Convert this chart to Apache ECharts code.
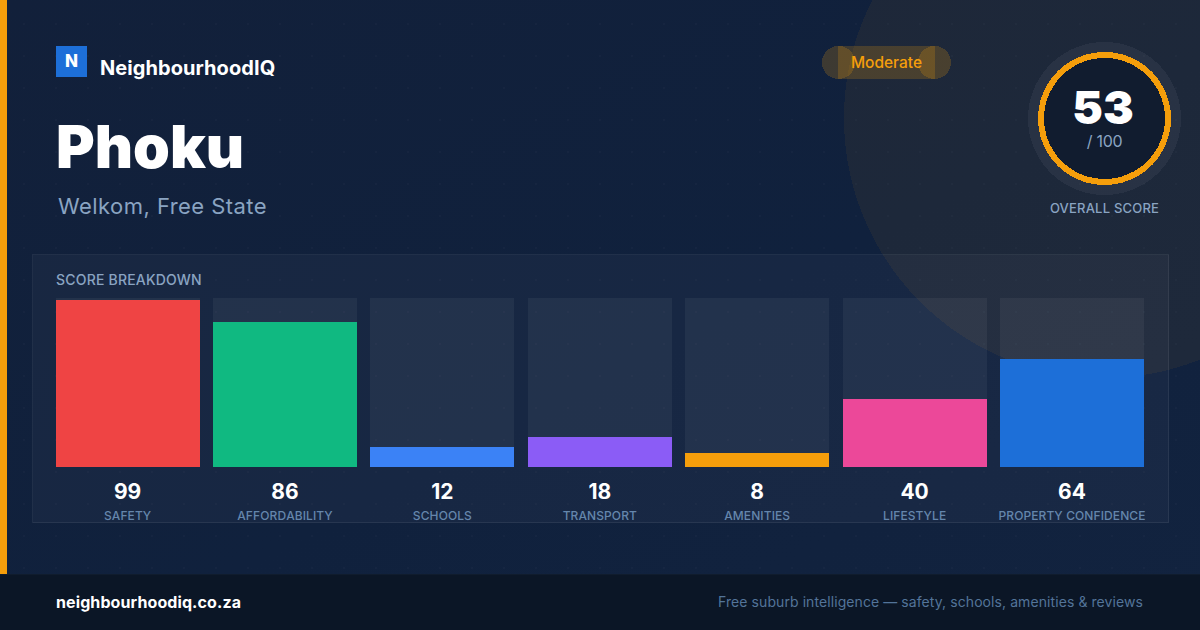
<!DOCTYPE html>
<html>
<head>
<meta charset="utf-8">
<title>Phoku - NeighbourhoodIQ</title>
<script src="https://cdn.jsdelivr.net/npm/echarts@6/dist/echarts.min.js"></script>
<style>
  html, body { margin: 0; padding: 0; background: #12213b; }
  #chart { width: 1200px; height: 630px; }
  #chart text { font-kerning: none; }
  #chart path { shape-rendering: crispEdges; }
</style>
</head>
<body>
<div id="chart"></div>
<script>
const categories = ['SAFETY', 'AFFORDABILITY', 'SCHOOLS', 'TRANSPORT', 'AMENITIES', 'LIFESTYLE', 'PROPERTY CONFIDENCE'];
const scores = [99, 86, 12, 18, 8, 40, 64];
const barColors = ['#ef4444', '#10b981', '#3b82f6', '#8b5cf6', '#f59e0b', '#ec4899', '#1d6fd8'];
const overallScore = 53;
const orange = '#f59e0b';
const muted = '#8aa4c2';
const font = 'Inter';

// echarts text has no letter spacing option, so it is set on the svg text afterwards
const spacing = {
    'NeighbourhoodIQ': 0.07,
    'Welkom, Free State': 0.45,
    'SCORE BREAKDOWN': 0.2,
    'OVERALL SCORE': 0.2,
    '/ 100': -0.3,
    'neighbourhoodiq.co.za': 0.1,
    'Free suburb intelligence \u2014 safety, schools, amenities & reviews': 0.08
};
categories.forEach(function (c) { spacing[c] = 0.1; });

// faint dot texture
const dots = document.createElement('canvas');
dots.width = 32;
dots.height = 32;
const dctx = dots.getContext('2d');
dctx.fillStyle = 'rgba(255,255,255,0.025)';
dctx.beginPath();
dctx.arc(24, 24, 1.2, 0, Math.PI * 2);
dctx.fill();

function label(text, x, y, size, color, weight, align) {
    return {
        type: 'text',
        z: 5,
        style: {
            text: text, x: x, y: y,
            font: (weight || 400) + ' ' + size + 'px ' + font,
            fill: color,
            textAlign: align || 'left',
            textVerticalAlign: 'middle'
        }
    };
}
function disc(cx, cy, r, fill, z, extra) {
    return { type: 'circle', z: z, shape: { cx: cx, cy: cy, r: r }, style: Object.assign({ fill: fill }, extra || {}) };
}
function box(x, y, w, h, fill, z, extra) {
    return { type: 'rect', z: z, shape: { x: x, y: y, width: w, height: h }, style: Object.assign({ fill: fill }, extra || {}) };
}

const badgeFill = 'rgba(245,158,11,0.2)';
const graphics = [
    box(0, 0, 1200, 630, { type: 'linear', x: 0, y: 0, x2: 1, y2: 1, colorStops: [
        { offset: 0, color: '#12203a' }, { offset: 0.55, color: '#10213d' }, { offset: 1, color: '#12233f' }] }, -10),
    disc(1104, 118, 260, 'rgba(245,158,11,0.06)', -9),
    box(0, 0, 1200, 574, { image: dots, repeat: 'repeat', imageWidth: 32, imageHeight: 32 }, -8),
    box(32.5, 254.5, 1136, 268, 'rgba(255,255,255,0.03)', -7, { stroke: 'rgba(255,255,255,0.07)', lineWidth: 1 }),

    box(0, 0, 7, 574, orange, 1),
    box(0, 574, 1200, 56, '#0b1626', 1),
    box(0, 574, 1200, 1, '#101c2d', 1),

    box(56, 46, 31, 31, '#1d6fd8', 1),
    label('N', 71.5, 61, 17, '#ffffff', 800, 'center'),
    label('NeighbourhoodIQ', 100, 68, 20, '#ffffff', 700),
    label('Phoku', 56, 146, 59, '#ffffff', 900),
    label('Welkom, Free State', 58, 206, 22, muted, 400),

    disc(838.5, 62.5, 16.5, badgeFill, 1),
    disc(934.5, 62.5, 16.5, badgeFill, 1),
    box(838, 46, 97, 33, badgeFill, 1),
    label('Moderate', 886.5, 62, 15.5, orange, 500, 'center'),

    disc(1104.5, 118.5, 76.5, 'rgba(255,255,255,0.05)', 1),
    disc(1104.5, 118.5, 63.5, '#111c2f', 2, { stroke: orange, lineWidth: 6 }),
    label(String(overallScore), 1103, 107, 46, '#ffffff', 900, 'center'),
    label('/ 100', 1104.5, 141, 16, muted, 400, 'center'),
    label('OVERALL SCORE', 1104.5, 208, 13, muted, 500, 'center'),

    label('SCORE BREAKDOWN', 56, 279, 14, muted, 500),

    label('neighbourhoodiq.co.za', 56, 602, 16, '#ffffff', 700),
    label('Free suburb intelligence \u2014 safety, schools, amenities & reviews', 1143, 601, 14, '#537499', 400, 'right')
];

const chart = echarts.init(document.getElementById('chart'), null, { renderer: 'svg' });
chart.setOption({
    animation: false,
    backgroundColor: '#12213b',
    graphic: { elements: graphics },
    grid: { left: 48.9, top: 298, width: 1101.8, height: 169, containLabel: false },
    xAxis: [
        {
            type: 'category',
            data: scores.map(String),
            axisLine: { show: false },
            axisTick: { show: false },
            axisLabel: { interval: 0, margin: 24, verticalAlign: 'middle', color: '#ffffff', fontFamily: font, fontSize: 21, fontWeight: 700 }
        },
        {
            type: 'category',
            position: 'bottom',
            data: categories,
            axisLine: { show: false },
            axisTick: { show: false },
            axisLabel: { interval: 0, margin: 48, verticalAlign: 'middle', color: '#6586ac', fontFamily: font, fontSize: 12, fontWeight: 500 }
        }
    ],
    yAxis: { type: 'value', min: 0, max: 100, show: false },
    series: [{
        type: 'bar',
        barWidth: 144,
        showBackground: true,
        backgroundStyle: { color: 'rgba(255,255,255,0.05)' },
        data: scores.map((v, i) => ({ value: v, itemStyle: { color: barColors[i] } })),
        z: 3
    }]
});

chart.getDom().querySelectorAll('text').forEach(function (t) {
    if (spacing[t.textContent]) t.style.letterSpacing = spacing[t.textContent] + 'px';
});
</script>
</body>
</html>
